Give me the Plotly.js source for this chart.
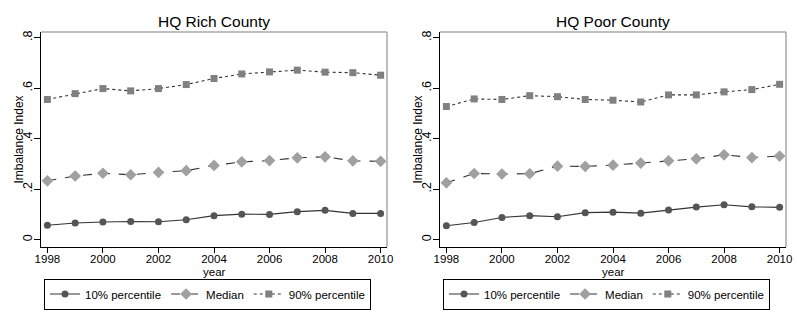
<!DOCTYPE html>
<html>
<head>
<meta charset="utf-8">
<script src="https://cdn.plot.ly/plotly-3.0.1.min.js"></script>
<style>html,body{margin:0;padding:0;background:#fff;}#chart{width:797px;height:319px;}</style>
</head>
<body>
<div id="chart"></div>
<script>
var years = [1998,1999,2000,2001,2002,2003,2004,2005,2006,2007,2008,2009,2010];
var seriesNames = ["10% percentile", "Median", "90% percentile"];
var panelTitles = ["HQ Rich County", "HQ Poor County"];

var richP10 = [0.057,0.066,0.070,0.072,0.071,0.079,0.095,0.101,0.100,0.111,0.116,0.104,0.104];
var richMed = [0.233,0.252,0.263,0.257,0.266,0.273,0.294,0.308,0.313,0.324,0.328,0.312,0.310];
var richP90 = [0.555,0.578,0.598,0.589,0.598,0.614,0.638,0.656,0.664,0.671,0.663,0.661,0.651];

var poorP10 = [0.055,0.068,0.088,0.095,0.091,0.107,0.109,0.105,0.117,0.129,0.138,0.130,0.128];
var poorMed = [0.225,0.262,0.260,0.261,0.291,0.290,0.295,0.303,0.312,0.320,0.336,0.325,0.331];
var poorP90 = [0.527,0.557,0.555,0.570,0.566,0.555,0.552,0.545,0.573,0.573,0.585,0.594,0.615];

var xTicks = [1998,2000,2002,2004,2006,2008,2010];
var yTickVals = [0,0.2,0.4,0.6,0.8];
var yTickText = ["0",".2",".4",".6",".8"];

var W = 797, H = 319;
var FONT = "Liberation Sans, Arial, sans-serif";

var styles = [
  {line:{color:"#333333",width:1.1,dash:"solid"}, marker:{symbol:"circle",size:7,color:"#555555"}},
  {line:{color:"#333333",width:1.1,dash:"dash"}, marker:{symbol:"diamond",size:9,color:"#a0a0a0"}},
  {line:{color:"#333333",width:1.1,dash:"dot"}, marker:{symbol:"square",size:7,color:"#808080"}}
];

function makeTraces(data, xa, ya, leg){
  return data.map(function(d,i){
    return {x:years, y:d, type:"scatter", mode:"lines+markers", name:seriesNames[i],
      xaxis:xa, yaxis:ya, legend:leg, line:styles[i].line,
      marker:{symbol:styles[i].marker.symbol,size:styles[i].marker.size,color:styles[i].marker.color,line:{width:0}}};
  });
}

var traces = makeTraces([richP10,richMed,richP90],"x","y","legend")
  .concat(makeTraces([poorP10,poorMed,poorP90],"x2","y2","legend2"));

// pixel geometry
var panels = [{l:41,r:387},{l:440,r:786}];
var pTop = 32, pBot = 247;
var yDom = [1 - pBot/H, 1 - pTop/H];

function xaxisDef(p){
  return {domain:[p.l/W,p.r/W], range:[1997.77,2010.23], tickvals:xTicks, ticks:"outside", ticklen:5,
    tickcolor:"#000", showline:true, linecolor:"#000", linewidth:1, showgrid:false, zeroline:false,
    ticklabelstandoff:-4, tickfont:{family:FONT,size:11.5,color:"#000"}, automargin:false, fixedrange:true};
}
function yaxisDef(){
  return {domain:yDom, range:[-0.029,0.822], tickvals:yTickVals, ticktext:yTickText, ticks:"outside",
    ticklen:6, tickcolor:"#000", showline:true, linecolor:"#000", linewidth:1, showgrid:false,
    zeroline:false, tickangle:-90, ticklabelstandoff:-3, tickfont:{family:FONT,size:12.5,color:"#000"}, automargin:false, fixedrange:true};
}

var annotations = [];
var shapes = [];
panels.forEach(function(p,i){
  var cx = (p.l+p.r)/2/W;
  annotations.push({xref:"paper",yref:"paper",x:cx,y:1-21/H,text:panelTitles[i],showarrow:false,
    xanchor:"center",yanchor:"middle",font:{family:FONT,size:15.5,color:"#000"}});
  annotations.push({xref:"paper",yref:"paper",x:cx,y:1-271.5/H,text:"year",showarrow:false,
    xanchor:"center",yanchor:"middle",font:{family:FONT,size:11.5,color:"#000"}});
  annotations.push({xref:"paper",yref:"paper",x:(p.l-23)/W,y:(yDom[0]+yDom[1])/2,text:"Imbalance Index",
    showarrow:false,textangle:-90,xanchor:"center",yanchor:"middle",font:{family:FONT,size:12,color:"#000"}});
  shapes.push({type:"line",xref:"paper",yref:"paper",x0:p.l/W,x1:p.r/W,y0:yDom[1],y1:yDom[1],line:{color:"#a8a8a8",width:1.5}});
  shapes.push({type:"line",xref:"paper",yref:"paper",x0:p.r/W,x1:p.r/W,y0:yDom[0],y1:yDom[1],line:{color:"#a8a8a8",width:1.5}});
});

function legendDef(p){
  return {orientation:"h", x:(p.l+3)/W, y:1-294/H, xanchor:"left", yanchor:"middle", bordercolor:"#000",
    borderwidth:1, bgcolor:"#fff", font:{family:FONT,size:11.5,color:"#000"}, itemclick:false, itemdoubleclick:false};
}

var layout = {
  width:W, height:H, margin:{l:0,r:0,t:0,b:0}, paper_bgcolor:"#fff", plot_bgcolor:"#fff",
  showlegend:true,
  xaxis:xaxisDef(panels[0]), yaxis:yaxisDef(), xaxis2:Object.assign(xaxisDef(panels[1]),{anchor:"y2"}),
  yaxis2:Object.assign(yaxisDef(),{anchor:"x2"}),
  legend:legendDef(panels[0]), legend2:legendDef(panels[1]),
  annotations:annotations, shapes:shapes
};
layout.xaxis.anchor = "y";
layout.yaxis.anchor = "x";

Plotly.newPlot("chart", traces, layout, {displayModeBar:false, staticPlot:true});
</script>
</body>
</html>
